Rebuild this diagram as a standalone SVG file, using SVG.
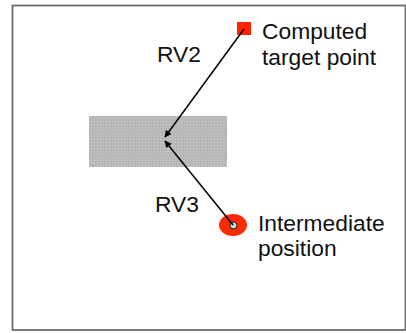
<svg xmlns="http://www.w3.org/2000/svg" width="406" height="333" viewBox="0 0 406 333">
  <style>
    .lbl { font-family: "Liberation Sans", Arial, sans-serif; font-size: 22.8px; fill: #111; }
    .conn { stroke: #000; stroke-width: 1.5; fill: none; marker-end: url(#head); }
  </style>
  <defs>
    <marker id="head" viewBox="0 0 10 10" refX="9" refY="5" markerWidth="7" markerHeight="7" markerUnits="userSpaceOnUse" orient="auto">
      <path d="M0,0 L10,5 L0,10 z" fill="#000"/>
    </marker>
    <pattern id="dots" width="3" height="3" patternUnits="userSpaceOnUse">
      <rect width="3" height="3" fill="#b8b8b8"/>
      <rect x="1" y="1" width="1" height="1" fill="#c9c9c9"/>
    </pattern>
  </defs>

  <rect width="406" height="333" fill="#fff"/>
  <!-- frame -->
  <rect x="12.5" y="5.5" width="393" height="324.5" fill="#fff" stroke="#6e6e6e" stroke-width="1.8"/>

  <g id="zone">
    <rect x="89" y="116" width="138" height="51" fill="url(#dots)"/>
  </g>

  <g id="target">
    <rect x="237" y="22" width="14" height="13" fill="#ff2200"/>
    <text class="lbl" x="262" y="39">Computed</text>
    <text class="lbl" x="262" y="65">target point</text>
  </g>

  <g id="intermediate">
    <ellipse cx="233" cy="225" rx="14" ry="11" fill="#ff2a00"/>
    <circle cx="233.5" cy="225.5" r="3.5" fill="#c9d9e0" stroke="#222" stroke-width="1"/>
    <text class="lbl" x="258" y="231">Intermediate</text>
    <text class="lbl" x="258" y="256">position</text>
  </g>

  <g id="connectors">
    <line class="conn" x1="244" y1="29" x2="165" y2="137"/>
    <line class="conn" x1="233" y1="225" x2="165" y2="141"/>
    <text class="lbl" x="157" y="62">RV2</text>
    <text class="lbl" x="155" y="212">RV3</text>
  </g>
</svg>
